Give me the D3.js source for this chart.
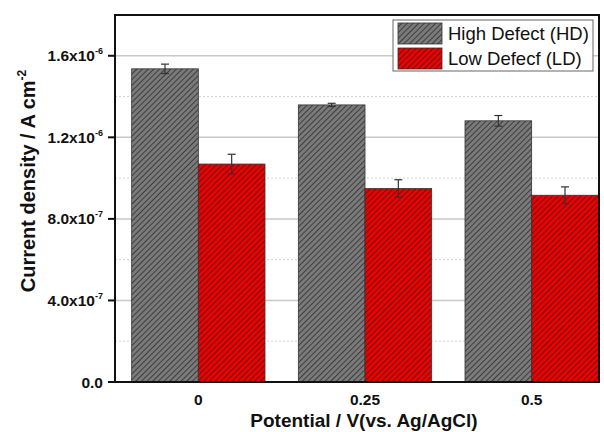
<!DOCTYPE html>
<html>
<head>
<meta charset="utf-8">
<script src="https://cdn.jsdelivr.net/npm/d3@7"></script>
<style>
  body { margin: 0; background: #fff; }
  text { font-family: "Liberation Sans", Arial, sans-serif; }
</style>
</head>
<body>
<div id="chart"></div>
<script>
// data
var potentials = ["0", "0.25", "0.5"];
var seriesNames = ["High Defect (HD)", "Low Defecf (LD)"];
var hdValues = [1.536e-6, 1.359e-6, 1.281e-6];
var hdErrors = [0.023e-6, 0.008e-6, 0.026e-6];
var ldValues = [1.069e-6, 0.949e-6, 0.916e-6];
var ldErrors = [0.048e-6, 0.043e-6, 0.041e-6];
var majorTicks = [0, 4e-7, 8e-7, 1.2e-6, 1.6e-6];
var tickLabels = [["0.0", ""], ["4.0x10", "-7"], ["8.0x10", "-7"], ["1.2x10", "-6"], ["1.6x10", "-6"]];
var minorTicks = [2e-7, 6e-7, 1.0e-6, 1.4e-6];

(function () {
  var width = 604, height = 432;
  var pLeft = 115, pRight = 599, pTop = 15, pBottom = 382;
  var fills = ["#7a7a7a", "#ee0000"];

  var svg = d3.select("#chart").append("svg")
    .attr("width", width).attr("height", height);

  // hatch patterns
  var defs = svg.append("defs");
  fills.forEach(function (c, i) {
    var p = defs.append("pattern")
      .attr("id", "hatch" + i)
      .attr("patternUnits", "userSpaceOnUse")
      .attr("width", 4).attr("height", 4)
      .attr("patternTransform", "rotate(45)");
    p.append("rect").attr("width", 4).attr("height", 4).attr("fill", c);
    p.append("line").attr("x1", 0).attr("y1", 0).attr("x2", 0).attr("y2", 4)
      .attr("stroke", "#222").attr("stroke-width", 1.4);
  });

  var y = d3.scaleLinear().domain([0, 1.8e-6]).range([pBottom, pTop]);
  var x = d3.scaleBand().domain(potentials).range([pLeft, pLeft + 500]).paddingInner(0.2).paddingOuter(0.1);
  var xs = d3.scaleBand().domain([0, 1]).range([0, x.bandwidth()]);

  // grid
  svg.append("g").selectAll("line").data(majorTicks.slice(1)).enter().append("line")
    .attr("x1", pLeft).attr("x2", pRight)
    .attr("y1", function (d) { return y(d); }).attr("y2", function (d) { return y(d); })
    .attr("stroke", "#c8c8c8").attr("stroke-width", 1.5);
  svg.append("g").selectAll("line").data(minorTicks).enter().append("line")
    .attr("x1", pLeft).attr("x2", pRight)
    .attr("y1", function (d) { return y(d); }).attr("y2", function (d) { return y(d); })
    .attr("stroke", "#d0d0d0").attr("stroke-width", 1).attr("stroke-dasharray", "2,2");

  // bars
  var rows = potentials.map(function (p, i) {
    return [
      { cat: p, s: 0, v: hdValues[i], e: hdErrors[i] },
      { cat: p, s: 1, v: ldValues[i], e: ldErrors[i] }
    ];
  });
  var groups = svg.append("g").selectAll("g").data(rows).enter().append("g")
    .attr("transform", function (d) { return "translate(" + x(d[0].cat) + ",0)"; });

  groups.selectAll("rect").data(function (d) { return d; }).enter().append("rect")
    .attr("x", function (d) { return xs(d.s); })
    .attr("width", xs.bandwidth())
    .attr("y", function (d) { return y(d.v); })
    .attr("height", function (d) { return pBottom - y(d.v); })
    .attr("fill", function (d) { return "url(#hatch" + d.s + ")"; })
    .attr("stroke", "#333").attr("stroke-width", 0.8);

  // error bars
  var eb = groups.selectAll("g.err").data(function (d) { return d; }).enter().append("g")
    .attr("class", "err")
    .attr("stroke", "#333").attr("stroke-width", 1.2);
  eb.append("line")
    .attr("x1", function (d) { return xs(d.s) + xs.bandwidth() / 2; })
    .attr("x2", function (d) { return xs(d.s) + xs.bandwidth() / 2; })
    .attr("y1", function (d) { return y(d.v + d.e); })
    .attr("y2", function (d) { return y(d.v - d.e); });
  [1, -1].forEach(function (sign) {
    eb.append("line")
      .attr("x1", function (d) { return xs(d.s) + xs.bandwidth() / 2 - 4; })
      .attr("x2", function (d) { return xs(d.s) + xs.bandwidth() / 2 + 4; })
      .attr("y1", function (d) { return y(d.v + sign * d.e); })
      .attr("y2", function (d) { return y(d.v + sign * d.e); });
  });

  // frame
  svg.append("rect").attr("x", pLeft).attr("y", pTop)
    .attr("width", pRight - pLeft).attr("height", pBottom - pTop)
    .attr("fill", "none").attr("stroke", "#111").attr("stroke-width", 2);

  // y ticks + labels
  var yt = svg.append("g").selectAll("g").data(majorTicks).enter().append("g")
    .attr("transform", function (d) { return "translate(0," + y(d) + ")"; });
  yt.append("line").attr("x1", pLeft - 7).attr("x2", pLeft).attr("stroke", "#111").attr("stroke-width", 2);
  var ytxt = yt.append("text")
    .attr("x", 103).attr("y", 5.5)
    .attr("text-anchor", "end")
    .attr("font-size", 15.5).attr("font-weight", "bold").attr("fill", "#111");
  ytxt.append("tspan").text(function (d, i) { return tickLabels[i][0]; });
  ytxt.append("tspan").attr("dy", -7).attr("font-size", 9)
    .text(function (d, i) { return tickLabels[i][1]; });

  // x labels
  svg.append("g").selectAll("text").data(potentials).enter().append("text")
    .attr("x", function (d) { return x(d) + x.bandwidth() / 2; })
    .attr("y", 405)
    .attr("text-anchor", "middle")
    .attr("font-size", 15.5).attr("font-weight", "bold").attr("fill", "#111")
    .text(function (d) { return d; });

  // axis titles
  svg.append("text").attr("x", 364).attr("y", 427)
    .attr("text-anchor", "middle").attr("font-size", 19).attr("font-weight", "bold").attr("fill", "#111")
    .text("Potential / V(vs. Ag/AgCl)");

  var yTitle = svg.append("text")
    .attr("transform", "translate(35,181) rotate(-90)")
    .attr("text-anchor", "middle").attr("font-size", 20).attr("font-weight", "bold").attr("fill", "#111");
  yTitle.append("tspan").text("Current density / A cm");
  yTitle.append("tspan").attr("dy", -9).attr("font-size", 12).text("-2");

  // legend
  var lg = svg.append("g").attr("transform", "translate(393,20)");
  lg.append("rect").attr("width", 200).attr("height", 51)
    .attr("fill", "#fff").attr("stroke", "#666").attr("stroke-width", 1);
  seriesNames.forEach(function (n, i) {
    lg.append("rect").attr("x", 5).attr("y", 3 + i * 25).attr("width", 44).attr("height", 21)
      .attr("fill", "url(#hatch" + i + ")").attr("stroke", "#333").attr("stroke-width", 0.8);
    lg.append("text").attr("x", 55).attr("y", 20 + i * 25)
      .attr("font-size", 18.5).attr("fill", "#111").text(n);
  });
})();
</script>
</body>
</html>
